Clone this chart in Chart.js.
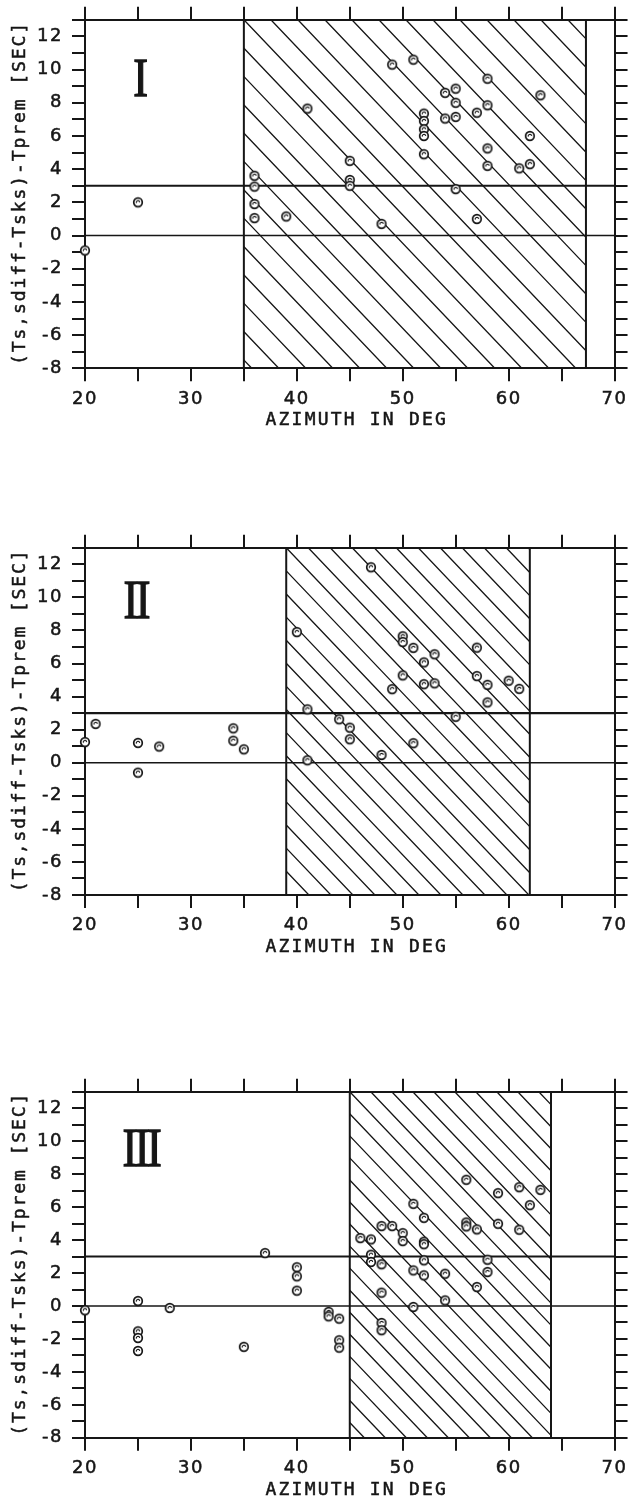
<!DOCTYPE html>
<html><head><meta charset="utf-8">
<script src="https://cdn.jsdelivr.net/npm/chart.js@4.4.1/dist/chart.umd.min.js"></script>
<style>
html,body{margin:0;padding:0;background:#fff;width:633px;height:1505px;overflow:hidden}
canvas{position:absolute;left:0}
</style></head><body>
<canvas id="c1"></canvas><canvas id="c2"></canvas><canvas id="c3"></canvas>
<script>
// ---------- data ----------
const panelNames = ['I', 'II', 'III'];
const xTickLabels = ['20', '30', '40', '50', '60', '70'];
const yTickLabels = ['-8', '-6', '-4', '-2', '0', '2', '4', '6', '8', '10', '12'];
const xTitle = 'AZIMUTH IN DEG';
const yTitle = '(Ts,sdiff-Tsks)-Tprem [SEC]';
const refLevels = [0, 3];
const shadeStart = [35, 39, 45];
const shadeEnd = [67.3, 62, 64];

const azimuth1 = [20, 25, 36, 36, 36, 36, 39, 41, 45, 45, 45, 48, 49, 51, 52, 52, 52, 52, 52, 54, 54, 55, 55, 55, 55, 57, 57, 58, 58, 58, 58, 61, 62, 62, 63];
const resid1   = [-0.9, 2.0, 3.6, 2.95, 1.9, 1.05, 1.15, 7.65, 4.5, 3.35, 3.0, 0.7, 10.3, 10.6, 7.35, 6.9, 6.4, 6.0, 4.9, 8.6, 7.05, 8.85, 8.0, 7.15, 2.8, 7.4, 1.0, 9.45, 7.85, 5.25, 4.2, 4.05, 6.0, 4.3, 8.45];

const azimuth2 = [20, 21, 25, 25, 27, 34, 34, 35, 40, 41, 41, 44, 45, 45, 47, 48, 49, 50, 50, 50, 51, 51, 52, 52, 53, 53, 55, 57, 57, 58, 58, 60, 61];
const resid2   = [1.25, 2.35, 1.2, -0.6, 0.98, 2.08, 1.33, 0.81, 7.9, 3.23, 0.15, 2.63, 2.12, 1.42, 11.82, 0.47, 4.45, 7.65, 7.3, 5.28, 6.95, 1.18, 6.07, 4.75, 6.56, 4.8, 2.78, 6.96, 5.24, 4.71, 3.65, 4.96, 4.47];

const azimuth3 = [20, 25, 25, 25, 25, 28, 35, 37, 40, 40, 40, 43, 43, 44, 44, 44, 46, 47, 47, 47, 48, 48, 48, 48, 48, 49, 50, 50, 51, 51, 51, 52, 52, 52, 52, 52, 54, 54, 56, 56, 56, 57, 57, 58, 58, 59, 59, 61, 61, 62, 63];
const resid3   = [-0.26, 0.3, -1.54, -1.94, -2.73, -0.12, -2.48, 3.21, 2.35, 1.8, 0.93, -0.36, -0.63, -0.77, -2.08, -2.53, 4.12, 4.04, 3.11, 2.67, 4.85, 2.53, 0.81, -1.03, -1.47, 4.85, 4.42, 3.94, 6.2, 2.16, -0.06, 5.35, 3.9, 3.75, 2.77, 1.86, 1.96, 0.34, 7.66, 5.07, 4.83, 4.65, 1.15, 2.81, 2.06, 6.85, 4.99, 7.21, 4.63, 6.12, 7.05];

const seriesX = [azimuth1, azimuth2, azimuth3];
const seriesY = [resid1, resid2, resid3];

// ---------- layout / style ----------
const INK = '#161616';
const geoms = [
  {id: 'c1', top: 0,    h: 440, plotTop: 19.5, plotBottom: 368.3, hatch: 27, numX: 25.25, numY: 8.42},
  {id: 'c2', top: 528,  h: 440, plotTop: 19.7, plotBottom: 367.0, hatch: 22, numX: 24.9,  numY: 8.73},
  {id: 'c3', top: 1072, h: 433, plotTop: 19.7, plotBottom: 365.8, hatch: 21, numX: 25.4,  numY: 8.49}
];
const LEFT = 85, RIGHT = 617.3, W = 633;
Chart.defaults.font.family = 'DejaVu Sans';
Chart.defaults.color = INK;

function makeMarker() {
  const c = document.createElement('canvas');
  c.width = 14; c.height = 14;
  const g = c.getContext('2d');
  g.beginPath(); g.arc(7, 7, 4.3, 0, Math.PI * 2);
  g.fillStyle = '#fff'; g.fill();
  g.lineWidth = 1.7; g.strokeStyle = INK; g.stroke();
  g.beginPath(); g.arc(7, 7.1, 1.7, Math.PI * 0.9, Math.PI * 1.95);
  g.lineWidth = 1.2; g.stroke();
  return c;
}
const marker = makeMarker();

function axisCommon(extra) {
  return Object.assign({
    type: 'linear',
    grid: {drawOnChartArea: false, drawTicks: true, tickLength: 13, tickWidth: 2, lineWidth: 2, tickColor: INK, color: INK},
    border: {display: true, color: INK, width: 2}
  }, extra);
}

function panelPlugin(idx, g) {
  return {
    id: 'panel' + idx,
    beforeDraw(chart) { chart.ctx.letterSpacing = '1.5px'; },
    beforeDatasetsDraw(chart) {
      const {ctx, chartArea: a, scales: {x, y}} = chart;
      const x0 = x.getPixelForValue(shadeStart[idx]);
      const x1 = x.getPixelForValue(shadeEnd[idx]);
      const y0 = a.top, y1 = a.bottom;
      // hatch
      ctx.save();
      ctx.beginPath(); ctx.rect(x0, y0, x1 - x0, y1 - y0); ctx.clip();
      ctx.strokeStyle = INK; ctx.lineWidth = 1.3;
      const slope = 1.05, hs = g.hatch, run = (y1 - y0) / slope;
      ctx.beginPath();
      for (let k = -Math.ceil(run / hs) - 1; k <= Math.ceil((x1 - x0) / hs) + 1; k++) {
        const sx = x0 + k * hs;
        ctx.moveTo(sx, y0); ctx.lineTo(sx + run, y1);
      }
      ctx.stroke();
      ctx.restore();
      // region boundaries
      ctx.save();
      ctx.strokeStyle = INK; ctx.lineWidth = 2;
      ctx.beginPath();
      ctx.moveTo(x0, y0); ctx.lineTo(x0, y1);
      ctx.moveTo(x1, y0); ctx.lineTo(x1, y1);
      ctx.stroke();
      // reference levels
      refLevels.forEach(v => {
        const py = y.getPixelForValue(v);
        ctx.lineWidth = v === 0 ? 1.6 : 2.1;
        ctx.beginPath(); ctx.moveTo(a.left, py); ctx.lineTo(a.right, py); ctx.stroke();
      });
      ctx.restore();
    },
    afterDraw(chart) {
      const {ctx, chartArea: a, scales: {x, y}} = chart;
      ctx.save();
      ctx.fillStyle = INK; ctx.strokeStyle = INK;
      // x title
      ctx.letterSpacing = '2.2px';
      ctx.font = '18px "DejaVu Sans Mono"';
      ctx.textAlign = 'center'; ctx.textBaseline = 'middle';
      ctx.lineWidth = 0.5;
      ctx.fillText(xTitle, (a.left + a.right) / 2 + 7, a.bottom + 52.5);
      ctx.strokeText(xTitle, (a.left + a.right) / 2 + 7, a.bottom + 52.5);
      // y title
      ctx.save();
      ctx.translate(20, (a.top + a.bottom) / 2);
      ctx.rotate(-Math.PI / 2);
      ctx.letterSpacing = '1.9px';
      ctx.fillText(yTitle, 1, 0);
      ctx.strokeText(yTitle, 1, 0);
      ctx.restore();
      // numeral
      ctx.save();
      const nx = x.getPixelForValue(g.numX), ny = y.getPixelForValue(g.numY);
      ctx.translate(nx, ny);
      ctx.scale(0.82, 1);
      ctx.letterSpacing = '-3px';
      ctx.font = '54px "Liberation Serif"';
      ctx.textAlign = 'center'; ctx.textBaseline = 'alphabetic';
      ctx.lineWidth = 1.4;
      ctx.fillText(panelNames[idx], -1.5, 0);
      ctx.strokeText(panelNames[idx], -1.5, 0);
      ctx.restore();
      ctx.restore();
    }
  };
}

geoms.forEach((g, idx) => {
  const cv = document.getElementById(g.id);
  cv.width = W; cv.height = g.h;
  cv.style.width = W + 'px'; cv.style.height = g.h + 'px';
  cv.style.top = g.top + 'px';
  const pts = seriesX[idx].map((v, i) => ({x: v, y: seriesY[idx][i]}));
  new Chart(cv, {
    type: 'scatter',
    data: {datasets: [{data: pts, pointStyle: marker, pointRadius: 5, clip: false}]},
    options: {
      responsive: false, animation: false, devicePixelRatio: 1,
      layout: {padding: 0},
      events: [],
      plugins: {legend: {display: false}, tooltip: {enabled: false}},
      scales: {
        x: axisCommon({position: 'bottom', min: 20, max: 70,
          ticks: {stepSize: 5, autoSkip: false, maxRotation: 0, padding: 7, color: INK,
            textStrokeColor: INK, textStrokeWidth: 0.5,
            font: {family: 'DejaVu Sans', size: 18},
            callback: v => xTickLabels.includes(String(v)) ? String(v) : ''},
          afterFit: s => { s.height = g.h - g.plotBottom; }}),
        x2: axisCommon({position: 'top', axis: 'x', min: 20, max: 70,
          ticks: {stepSize: 5, autoSkip: false, maxRotation: 0, callback: () => ''},
          afterFit: s => { s.height = g.plotTop; }}),
        y: axisCommon({position: 'left', min: -8, max: 13,
          ticks: {stepSize: 1, autoSkip: false, padding: 9, color: INK,
            textStrokeColor: INK, textStrokeWidth: 0.5,
            font: {family: 'DejaVu Sans', size: 18},
            callback: v => yTickLabels.includes(String(v)) ? String(v) : ''},
          afterFit: s => { s.width = LEFT; }}),
        y2: axisCommon({position: 'right', axis: 'y', min: -8, max: 13,
          ticks: {stepSize: 1, autoSkip: false, callback: () => ''},
          afterFit: s => { s.width = W - RIGHT; }})
      }
    },
    plugins: [panelPlugin(idx, g)]
  });
});
</script>
</body></html>
